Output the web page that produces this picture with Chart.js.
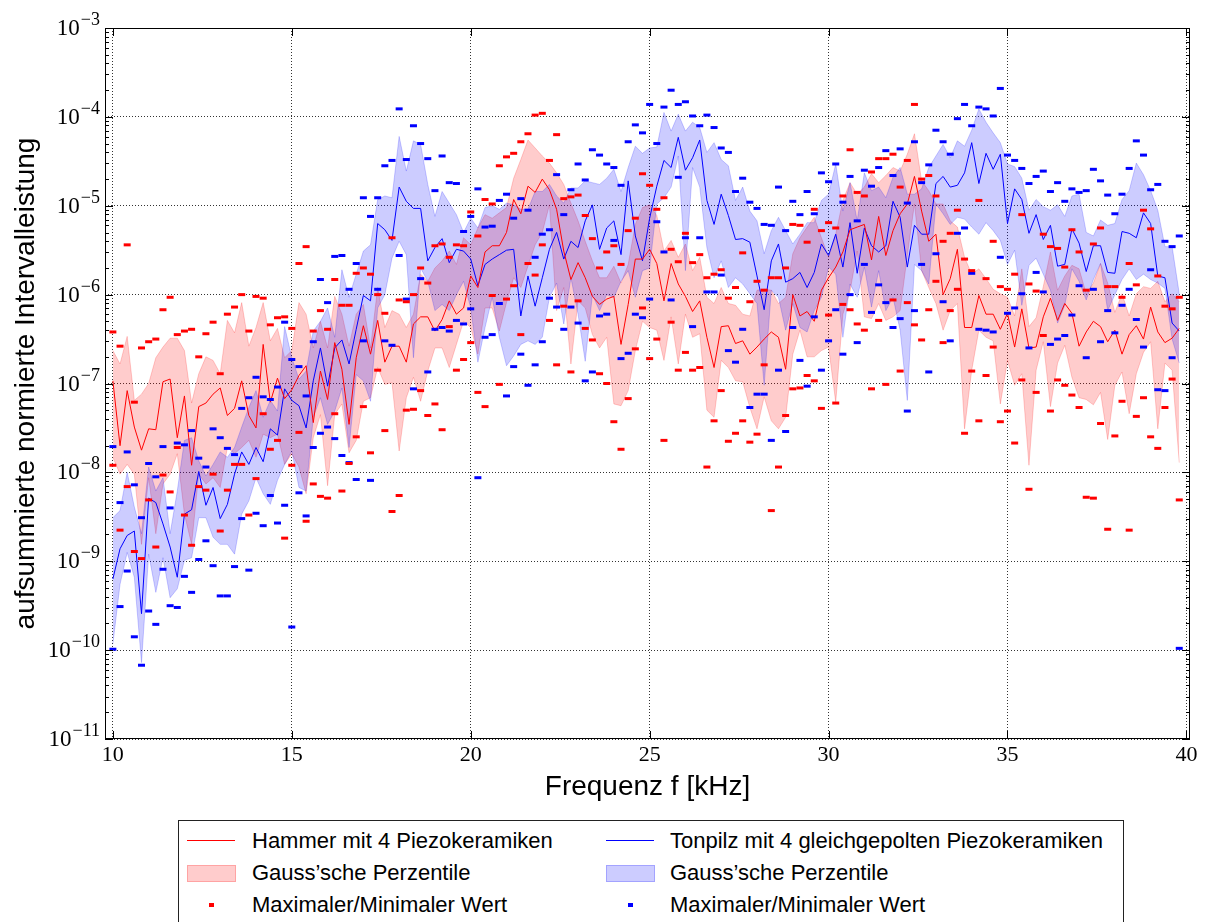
<!DOCTYPE html>
<html>
<head>
<meta charset="utf-8">
<script src="https://cdn.jsdelivr.net/npm/chart.js@4.4.1/dist/chart.umd.min.js"></script>
<style>
  body { margin: 0; background: #fff; width: 1207px; height: 922px; overflow: hidden; position: relative;
         font-family: "Liberation Sans", Arial, sans-serif; }
  #c { position: absolute; left: 0; top: 0; }
  #legend { position: absolute; left: 178px; top: 820px; width: 946px; height: 130px;
            border: 1px solid #222; box-sizing: border-box; background: #fff; }
  .lg { position: absolute; font-size: 22px; line-height: 26px; white-space: nowrap; color: #000; }
  .hline { position: absolute; width: 48px; height: 0; border-top: 1.5px solid; }
  .patch { position: absolute; width: 47px; height: 15px; }
  .dot { position: absolute; width: 5px; height: 4px; }
</style>
</head>
<body>
<canvas id="c" width="1207" height="810"></canvas>
<div id="legend"></div>

<script>
// frequency grid of the measurement, kHz (0.2 kHz steps)
var freqs = Array.from({length: 150}, function(_, i) { return Math.round((10 + 0.2 * i) * 10) / 10; });

// all power values below as log10 exponents
// Hammer mit 4 Piezokeramiken (red)
var hammerLineExp = [
  -6.97,-7.70,-7.08,-7.49,-7.75,-7.51,-7.52,-6.98,-6.95,-7.61,-7.14,-7.92,-7.26,-7.22,-7.12,-7.05,-7.36,-7.28,-6.97,-7.36,-7.50,-6.56,-7.21,-6.94,-7.17,-7.07,
  -6.91,-6.80,-7.44,-6.86,-7.18,-6.54,-6.84,-7.46,-6.71,-6.35,-6.67,-6.29,-6.76,-6.58,-6.58,-6.76,-6.33,-6.25,-6.25,-6.41,-6.28,-6.07,-6.22,-6.15,-5.79,
  -5.92,-5.52,-5.45,-5.45,-5.30,-4.93,-5.09,-4.78,-4.85,-4.70,-4.82,-5.04,-5.51,-5.83,-5.64,-5.81,-6.02,-6.11,-6.05,-6.02,-6.56,-6.11,-5.60,-5.60,-5.49,
  -5.65,-6.07,-5.65,-5.88,-6.02,-6.19,-6.07,-6.48,-6.82,-6.36,-6.35,-6.55,-6.52,-6.67,-6.59,-6.50,-6.42,-6.48,-6.84,-6.00,-6.24,-6.19,-6.30,-5.95,-5.81,
  -5.69,-5.52,-5.27,-5.24,-5.21,-5.61,-5.12,-5.56,-5.28,-5.09,-4.98,-4.67,-5.06,-5.40,-5.32,-6.00,-5.82,-5.49,-6.37,-6.37,-6.01,-6.22,-6.22,-6.39,-6.21,
  -6.59,-6.16,-6.60,-6.59,-6.25,-6.04,-6.29,-6.10,-6.21,-6.58,-6.42,-6.30,-6.36,-6.53,-6.40,-6.67,-6.45,-6.35,-6.50,-6.14,-6.42,-6.54,-6.49,-6.38];
var hammerUpperExp = [
  -6.63,-6.78,-6.47,-7.19,-7.12,-7.00,-6.71,-6.59,-6.49,-6.49,-6.63,-7.22,-6.89,-6.70,-6.74,-6.89,-6.29,-6.43,-6.09,-6.58,-6.37,-6.09,-6.52,-6.38,-6.71,-6.63,
  -6.09,-6.22,-6.60,-6.30,-6.60,-6.02,-6.22,-6.58,-6.22,-6.11,-6.60,-5.92,-6.37,-6.18,-6.22,-6.37,-6.22,-5.77,-5.85,-5.70,-5.62,-5.51,-5.66,-5.36,-5.44,
  -5.25,-5.10,-5.14,-5.08,-5.02,-4.69,-4.48,-4.26,-4.35,-4.44,-4.52,-4.63,-4.76,-4.97,-5.17,-5.40,-5.62,-5.81,-5.81,-5.68,-5.87,-5.66,-5.21,-5.02,-4.99,
  -5.11,-5.51,-5.39,-5.58,-5.43,-5.73,-5.58,-6.03,-6.10,-5.92,-6.10,-6.12,-6.22,-6.24,-5.95,-5.94,-5.95,-6.10,-6.03,-5.54,-5.36,-5.24,-5.13,-5.36,-5.58,
  -5.32,-4.94,-4.74,-4.87,-4.79,-4.64,-4.74,-4.66,-4.57,-4.61,-4.42,-4.19,-4.72,-4.83,-4.98,-4.98,-5.17,-5.24,-5.58,-5.77,-5.71,-5.82,-5.94,-5.99,-6.03,
  -6.24,-5.71,-6.36,-6.26,-5.91,-5.52,-5.95,-5.79,-5.67,-5.71,-5.99,-5.87,-5.65,-5.87,-6.20,-5.99,-6.24,-5.99,-5.91,-5.93,-5.85,-6.08,-5.99,-6.08];
var hammerLowerExp = [
  -7.83,-8.02,-7.91,-8.02,-8.81,-8.06,-8.69,-8.13,-8.02,-7.79,-8.47,-8.81,-8.02,-8.13,-8.06,-8.17,-7.72,-7.79,-7.72,-7.64,-7.83,-7.57,-7.61,-7.57,-7.91,-7.79,
  -7.94,-8.24,-7.61,-7.35,-8.15,-7.35,-7.23,-7.78,-7.64,-7.20,-7.16,-6.82,-7.01,-6.99,-7.76,-7.16,-6.93,-7.20,-6.86,-6.60,-6.60,-6.82,-6.56,-6.30,-6.37,
  -6.67,-6.15,-6.15,-6.41,-6.09,-5.81,-5.92,-5.68,-5.44,-5.30,-4.99,-6.18,-5.92,-6.78,-6.07,-6.15,-6.45,-6.60,-6.48,-7.23,-7.25,-7.08,-6.63,-6.30,-6.37,
  -6.40,-6.74,-6.25,-6.78,-6.22,-6.48,-6.44,-7.30,-7.38,-6.74,-6.82,-6.97,-6.98,-7.27,-7.51,-7.15,-7.42,-7.51,-7.38,-6.67,-6.40,-6.70,-6.70,-6.63,-6.59,
  -7.21,-6.22,-5.96,-5.51,-6.25,-6.27,-6.10,-6.29,-6.25,-6.18,-5.56,-4.98,-5.73,-5.92,-6.10,-6.40,-6.18,-6.10,-7.51,-6.85,-6.40,-6.48,-6.52,-7.23,-6.74,
  -7.02,-6.89,-7.92,-6.85,-6.53,-7.26,-6.77,-6.57,-6.93,-7.16,-7.18,-7.24,-7.10,-7.63,-7.02,-6.87,-7.34,-6.89,-6.65,-6.53,-7.51,-6.77,-6.85,-7.89];
var hammerMaxExp = [
  -6.42,-6.58,-5.44,-7.21,-6.60,-6.53,-6.50,-6.17,-6.03,-6.45,-6.41,-6.39,-6.70,-6.44,-6.31,-6.89,-6.22,-6.14,-6.00,-6.41,-6.02,-6.04,-6.34,-6.26,-6.25,-6.38,
  -5.65,-5.46,-6.41,-6.18,-6.39,-5.83,-6.12,-6.12,-5.76,-5.70,-5.77,-6.00,-6.21,-5.36,-6.06,-6.08,-6.00,-5.70,-5.87,-5.45,-5.43,-5.58,-5.44,-5.45,-5.07,
  -5.34,-4.93,-4.98,-4.55,-4.45,-4.41,-4.28,-4.19,-3.98,-3.96,-4.49,-4.20,-4.92,-4.90,-4.88,-5.11,-5.37,-5.70,-5.52,-5.45,-5.66,-5.28,-5.14,-4.64,-4.77,
  -5.04,-4.91,-5.49,-5.63,-5.31,-5.64,-5.55,-5.81,-5.77,-5.72,-6.04,-5.92,-5.53,-6.08,-5.85,-5.95,-5.81,-5.81,-5.70,-5.21,-5.22,-5.41,-5.04,-5.28,-5.19,
  -5.25,-4.89,-4.37,-4.85,-4.89,-4.62,-4.47,-4.47,-4.42,-4.79,-4.49,-3.86,-4.70,-4.66,-4.89,-5.40,-5.31,-5.05,-5.60,-5.73,-4.94,-5.82,-5.40,-5.91,-5.94,
  -5.77,-5.10,-5.88,-5.96,-5.32,-5.46,-5.48,-5.69,-5.27,-5.52,-5.95,-5.43,-5.25,-5.91,-5.91,-6.03,-5.65,-5.89,-5.05,-5.26,-5.79,-6.13,-6.16,-6.03];
var hammerMinExp = [
  -7.92,-8.65,-8.16,-8.89,-8.97,-8.31,-8.84,-8.03,-8.22,-7.72,-8.48,-8.82,-8.16,-8.20,-8.02,-8.66,-8.20,-7.91,-7.91,-8.48,-8.07,-7.34,-7.74,-7.64,-8.74,-7.92,
  -7.55,-8.55,-8.13,-8.27,-8.29,-7.34,-8.21,-7.90,-7.60,-7.26,-7.78,-6.85,-7.53,-8.44,-8.26,-7.30,-7.29,-7.08,-7.36,-7.23,-7.52,-6.36,-6.85,-6.73,-6.54,
  -7.10,-7.26,-6.01,-7.01,-6.05,-5.90,-6.45,-5.65,-5.78,-5.44,-6.29,-6.79,-6.13,-6.87,-6.07,-6.38,-6.51,-6.89,-7.00,-7.43,-7.74,-7.17,-6.61,-6.15,-6.72,
  -6.50,-7.64,-6.31,-6.85,-6.65,-6.85,-6.82,-7.94,-7.42,-7.08,-7.65,-7.56,-7.42,-7.66,-7.57,-6.79,-8.43,-7.94,-7.36,-7.06,-7.05,-6.91,-6.97,-7.28,-6.23,
  -7.22,-6.11,-6.17,-6.33,-6.40,-7.06,-6.29,-7.01,-6.06,-6.86,-6.09,-6.34,-6.51,-6.17,-5.85,-6.54,-6.18,-5.94,-7.56,-6.86,-7.42,-6.91,-6.59,-7.43,-7.31,
  -7.67,-6.96,-8.19,-7.10,-6.46,-7.31,-6.96,-7.02,-7.13,-7.27,-8.28,-8.29,-7.45,-8.64,-7.59,-7.20,-8.65,-7.37,-7.16,-7.60,-7.73,-7.27,-6.95,-8.31];

// Tonpilz mit 4 gleichgepolten Piezokeramiken (blue)
var tonpilzLineExp = [
  -9.20,-8.86,-8.71,-8.66,-9.59,-8.29,-8.34,-8.58,-8.84,-9.18,-8.47,-8.42,-7.99,-8.37,-8.17,-8.52,-8.36,-8.02,-7.77,-7.91,-7.72,-7.88,-7.51,-7.58,-7.06,-7.19,
  -7.25,-7.50,-6.97,-6.60,-7.03,-6.60,-6.51,-6.78,-6.39,-6.01,-6.07,-5.20,-5.27,-5.39,-4.79,-4.95,-5.03,-5.03,-5.62,-5.47,-5.37,-5.64,-5.49,-5.51,-5.60,
  -5.90,-5.66,-5.60,-5.55,-5.50,-5.49,-6.24,-5.79,-6.13,-5.81,-5.49,-5.30,-5.60,-5.40,-5.47,-5.17,-4.99,-5.49,-5.25,-5.17,-5.55,-4.72,-5.34,-5.62,-5.14,
  -4.78,-4.49,-4.57,-4.23,-4.60,-4.46,-4.26,-4.94,-5.21,-4.87,-5.11,-5.38,-5.37,-5.41,-5.79,-6.17,-5.62,-5.43,-5.86,-5.82,-5.75,-5.92,-5.75,-5.43,-5.56,
  -5.32,-5.69,-5.19,-5.76,-5.25,-5.45,-5.52,-5.45,-4.95,-5.13,-5.69,-5.22,-5.32,-5.32,-4.75,-4.67,-4.79,-4.77,-4.63,-4.29,-4.75,-4.41,-4.59,-4.42,-5.20,
  -4.81,-4.93,-5.31,-5.10,-5.38,-5.22,-5.68,-5.66,-5.26,-5.42,-5.74,-5.45,-5.45,-5.75,-5.76,-5.29,-5.31,-5.36,-5.08,-5.20,-5.79,-5.81,-6.32,-6.41];
var tonpilzUpperExp = [
  -8.51,-8.43,-8.00,-8.39,-8.69,-7.94,-8.21,-8.06,-8.69,-8.21,-7.64,-7.61,-7.87,-8.04,-7.91,-7.77,-7.83,-7.72,-7.49,-7.27,-7.08,-7.38,-7.19,-7.31,-6.36,-6.71,
  -6.95,-6.86,-6.41,-6.30,-6.15,-6.48,-5.72,-6.03,-5.77,-5.51,-5.44,-4.93,-4.89,-4.91,-4.22,-4.61,-4.27,-4.31,-4.76,-5.12,-4.84,-4.97,-5.10,-5.30,-5.14,
  -5.25,-5.02,-5.00,-5.04,-4.97,-4.99,-5.04,-5.04,-4.84,-4.84,-4.76,-4.89,-4.97,-4.80,-4.80,-4.72,-4.74,-4.76,-4.69,-4.59,-4.84,-4.57,-4.33,-4.41,-4.35,
  -4.34,-3.95,-4.16,-3.97,-4.16,-4.06,-4.12,-4.40,-4.29,-4.48,-4.55,-4.94,-4.79,-5.06,-5.17,-5.54,-5.28,-5.13,-5.28,-5.43,-5.32,-5.19,-5.19,-4.94,-4.87,
  -4.53,-5.06,-4.74,-5.17,-4.63,-4.83,-4.79,-4.91,-4.68,-4.57,-4.87,-4.87,-4.81,-4.57,-4.44,-4.31,-4.46,-4.27,-4.33,-4.15,-3.91,-4.06,-4.18,-4.29,-4.53,
  -4.56,-4.69,-5.05,-4.93,-5.01,-5.05,-4.99,-5.12,-4.89,-4.87,-5.30,-5.34,-5.16,-5.22,-5.20,-4.93,-4.83,-4.52,-4.65,-4.83,-5.05,-5.46,-5.46,-5.99];
var tonpilzLowerExp = [
  -9.93,-9.26,-8.90,-9.18,-10.14,-8.92,-9.35,-8.96,-9.41,-9.31,-8.99,-8.96,-8.51,-8.51,-8.73,-8.81,-8.81,-8.92,-8.47,-8.32,-8.06,-8.24,-8.36,-8.09,-7.91,-7.76,
  -8.17,-8.21,-7.38,-7.16,-7.46,-7.31,-7.05,-7.72,-6.90,-6.97,-7.20,-6.15,-6.00,-5.59,-5.40,-5.55,-6.71,-5.70,-5.85,-6.18,-6.11,-6.18,-6.00,-5.85,-6.15,
  -6.76,-6.37,-6.03,-6.48,-6.80,-6.69,-6.56,-6.52,-6.56,-6.48,-6.03,-5.87,-6.33,-5.81,-6.22,-6.75,-6.00,-6.18,-6.00,-6.03,-5.85,-5.73,-6.03,-5.73,-5.70,
  -4.98,-4.91,-4.79,-4.44,-5.73,-4.57,-4.79,-5.47,-5.81,-5.62,-5.92,-5.81,-5.88,-5.99,-6.10,-7.02,-5.95,-6.03,-6.40,-6.10,-6.37,-6.42,-6.18,-6.03,-5.69,
  -5.77,-6.48,-5.88,-6.03,-5.69,-6.14,-5.73,-6.18,-6.03,-6.40,-7.19,-5.66,-5.73,-5.88,-4.98,-5.09,-5.21,-5.13,-5.15,-5.24,-5.32,-5.19,-5.28,-5.39,-5.66,
  -5.50,-6.12,-5.67,-5.59,-5.77,-5.95,-6.32,-6.12,-5.71,-5.85,-6.06,-5.83,-5.65,-6.18,-6.00,-5.83,-5.71,-5.83,-5.77,-5.83,-5.87,-5.93,-6.50,-6.77];
var tonpilzMaxExp = [
  -7.71,-8.34,-7.77,-8.14,-8.51,-7.90,-8.05,-7.71,-8.40,-7.67,-7.69,-7.53,-7.84,-7.94,-7.51,-7.61,-7.73,-7.80,-7.28,-7.16,-6.93,-7.15,-7.18,-7.04,-6.31,-6.73,
  -6.81,-7.14,-6.53,-5.83,-6.09,-5.57,-5.56,-5.94,-5.65,-4.91,-5.12,-4.91,-4.55,-4.49,-3.91,-4.48,-4.10,-4.30,-4.47,-4.83,-4.44,-4.74,-4.75,-5.29,-5.12,
  -4.81,-5.24,-5.23,-4.94,-4.87,-5.14,-4.92,-5.05,-5.58,-5.32,-5.27,-4.65,-5.10,-4.82,-4.53,-4.71,-4.37,-4.43,-4.53,-4.57,-4.77,-4.28,-4.09,-4.18,-3.86,
  -4.30,-3.89,-3.70,-3.86,-3.83,-3.99,-4.10,-3.98,-4.12,-4.35,-4.40,-4.84,-4.69,-4.96,-5.03,-5.21,-5.22,-4.79,-5.28,-4.95,-5.10,-4.84,-5.09,-4.63,-4.73,
  -4.53,-4.96,-4.67,-5.17,-4.60,-4.78,-4.57,-4.38,-4.66,-4.36,-4.97,-4.28,-4.74,-4.54,-4.15,-4.28,-4.42,-4.02,-3.86,-4.10,-3.89,-3.91,-3.99,-3.68,-4.43,
  -4.49,-4.58,-4.75,-4.67,-4.61,-4.84,-4.74,-4.95,-4.81,-4.85,-4.83,-4.59,-4.72,-4.88,-5.09,-4.87,-4.58,-4.27,-4.43,-4.82,-4.76,-5.40,-5.46,-5.34];
var tonpilzMinExp = [
  -9.99,-9.51,-9.11,-9.85,-10.17,-9.56,-9.71,-9.09,-9.50,-9.52,-9.17,-9.35,-8.98,-8.77,-9.05,-9.39,-9.39,-9.06,-8.52,-9.10,-8.46,-8.60,-8.26,-8.57,-8.37,-9.74,
  -8.23,-8.49,-7.72,-7.56,-7.49,-7.62,-7.81,-7.89,-8.08,-6.52,-8.09,-5.94,-6.52,-6.57,-5.56,-6.05,-7.06,-5.82,-6.87,-6.39,-6.37,-6.41,-6.29,-6.33,-6.16,
  -8.06,-6.48,-6.45,-6.10,-7.14,-6.81,-6.67,-7.02,-6.79,-6.53,-6.04,-6.14,-6.39,-6.14,-6.32,-6.97,-6.87,-6.24,-6.22,-5.39,-6.72,-6.66,-6.22,-6.26,-6.05,
  -5.18,-5.52,-6.06,-4.68,-5.36,-6.36,-5.36,-5.97,-5.97,-5.78,-6.63,-6.76,-6.39,-7.27,-7.12,-7.12,-7.64,-6.85,-7.54,-6.37,-6.74,-7.03,-6.25,-6.85,-6.52,
  -6.17,-6.67,-6.00,-6.54,-5.66,-6.20,-5.89,-6.09,-6.37,-6.27,-7.31,-6.18,-5.66,-6.87,-5.54,-6.08,-6.52,-5.31,-5.25,-5.76,-6.39,-6.40,-6.42,-5.58,-6.21,
  -6.15,-5.99,-6.60,-5.75,-5.97,-6.56,-6.50,-6.46,-6.23,-5.90,-6.71,-5.94,-6.53,-6.18,-6.43,-6.12,-5.94,-6.28,-6.59,-5.72,-7.07,-7.08,-6.71,-9.98];

// axes
var xTicks = [10, 15, 20, 25, 30, 35, 40];
var yDecades = [-11, -10, -9, -8, -7, -6, -5, -4, -3];

var legendRows = [
  ['Hammer mit 4 Piezokeramiken', 'Tonpilz mit 4 gleichgepolten Piezokeramiken'],
  ["Gauss\u2019sche Perzentile", "Gauss\u2019sche Perzentile"],
  ['Maximaler/Minimaler Wert', 'Maximaler/Minimaler Wert']
];

function pts(exps) {
  return freqs.map(function(f, i) { return {x: f, y: Math.pow(10, exps[i])}; });
}

var RED = '#ff0000', BLUE = '#0000ff';
var RED_BAND = 'rgba(255,0,0,0.2)', BLUE_BAND = 'rgba(0,0,255,0.2)';

function band(exps, col, fill, order) {
  return {data: pts(exps), borderColor: col, backgroundColor: col, borderWidth: 1,
          pointRadius: 0, fill: fill, tension: 0, order: order};
}
function line(exps, col) {
  return {data: pts(exps), borderColor: col, borderWidth: 1, pointRadius: 0,
          fill: false, tension: 0, order: 2};
}
function marks(exps, col) {
  return {data: pts(exps), showLine: false, pointStyle: 'line', pointRadius: 3.5,
          pointBorderWidth: 3, pointBorderColor: col, borderColor: col, order: 1};
}

var dotted = [1, 2];

var axisDecor = {
  id: 'axisDecor',
  afterDraw: function(chart) {
    var ctx = chart.ctx, a = chart.chartArea, xs = chart.scales.x, ys = chart.scales.y;
    ctx.save();
    ctx.strokeStyle = '#000';
    ctx.lineWidth = 1;
    ctx.beginPath();
    yDecades.forEach(function(d) {
      for (var m = 1; m < 10; m++) {
        var v = m * Math.pow(10, d);
        if (v > 1.0001e-3) break;
        var py = Math.round(ys.getPixelForValue(v)) + 0.5;
        var len = m === 1 ? 8 : 4;
        ctx.moveTo(a.left, py); ctx.lineTo(a.left + len, py);
        ctx.moveTo(a.right, py); ctx.lineTo(a.right - len, py);
      }
    });
    xTicks.forEach(function(t) {
      var px = Math.round(xs.getPixelForValue(t)) + 0.5;
      ctx.moveTo(px, a.bottom); ctx.lineTo(px, a.bottom - 8);
      ctx.moveTo(px, a.top); ctx.lineTo(px, a.top + 8);
    });
    ctx.stroke();
    ctx.strokeRect(Math.round(a.left) + 0.5, Math.round(a.top) + 0.5,
                   Math.round(a.right) - Math.round(a.left) - 1, Math.round(a.bottom) - Math.round(a.top) - 1);

    // y tick labels as 10^n
    ctx.fillStyle = '#000';
    yDecades.forEach(function(d) {
      var py = ys.getPixelForValue(Math.pow(10, d));
      var sup = '\u2212' + Math.abs(d);
      ctx.font = '18px "Liberation Serif"';
      ctx.textAlign = 'right';
      ctx.textBaseline = 'alphabetic';
      ctx.fillText(sup, 100, py - 3);
      var w = ctx.measureText(sup).width;
      ctx.font = '23px "Liberation Serif"';
      ctx.textBaseline = 'middle';
      ctx.fillText('10', 100 - w - 1, py + 1);
    });
    ctx.restore();
  }
};

new Chart(document.getElementById('c'), {
  type: 'line',
  data: {
    datasets: [
      band(hammerUpperExp, RED_BAND, '+1', 6),
      band(hammerLowerExp, RED_BAND, false, 6),
      band(tonpilzUpperExp, BLUE_BAND, '+1', 5),
      band(tonpilzLowerExp, BLUE_BAND, false, 5),
      line(hammerLineExp, RED),
      line(tonpilzLineExp, BLUE),
      marks(hammerMaxExp, RED),
      marks(hammerMinExp, RED),
      marks(tonpilzMaxExp, BLUE),
      marks(tonpilzMinExp, BLUE)
    ]
  },
  options: {
    responsive: false,
    devicePixelRatio: 1,
    animation: false,
    layout: {padding: {top: 28, right: 17, left: 0, bottom: 0}},
    plugins: {legend: {display: false}, tooltip: {enabled: false}},
    scales: {
      x: {
        type: 'linear', min: 9.78, max: 40.1,
        afterBuildTicks: function(s) { s.ticks = xTicks.map(function(v) { return {value: v}; }); },
        afterFit: function(s) { s.height = 71; },
        ticks: {font: {family: 'Liberation Serif', size: 22}, color: '#000', padding: 3,
                maxRotation: 0, autoSkip: false, callback: function(v) { return String(v); }},
        grid: {color: 'rgba(0,0,0,0.8)', lineWidth: 1, drawTicks: false},
        border: {display: false, dash: dotted},
        title: {display: true, text: 'Frequenz f [kHz]', color: '#000',
                font: {family: 'Liberation Sans', size: 28}, padding: {top: 0, bottom: 6}}
      },
      y: {
        type: 'logarithmic', min: 1e-11, max: 1e-3,
        afterBuildTicks: function(s) { s.ticks = yDecades.map(function(d) { return {value: Math.pow(10, d)}; }); },
        afterFit: function(s) { s.width = 105; },
        ticks: {display: false},
        grid: {color: 'rgba(0,0,0,0.8)', lineWidth: 1, drawTicks: false},
        border: {display: false, dash: dotted},
        title: {display: true, text: 'aufsummierte normierte Intervalleistung', color: '#000',
                font: {family: 'Liberation Sans', size: 28}, padding: {top: 9, bottom: 0}}
      }
    }
  },
  plugins: [axisDecor]
});

// legend below the plot
var lg = document.getElementById('legend');
var rowY = [20, 52, 84];            // row centres relative to the legend box
var cols = [{h: 8, t: 73, c: RED, b: RED_BAND}, {h: 427, t: 491, c: BLUE, b: BLUE_BAND}];
cols.forEach(function(col, ci) {
  legendRows.forEach(function(row, ri) {
    var cy = rowY[ri];
    var el;
    if (ri === 0) {
      el = document.createElement('div'); el.className = 'hline';
      el.style.left = col.h + 'px'; el.style.top = (cy - 1) + 'px'; el.style.borderTopColor = col.c;
    } else if (ri === 1) {
      el = document.createElement('div'); el.className = 'patch';
      el.style.left = col.h + 'px'; el.style.top = (cy - 8) + 'px';
      el.style.background = col.b; el.style.border = '1px solid ' + col.b;
    } else {
      el = document.createElement('div'); el.className = 'dot';
      el.style.left = (col.h + 22) + 'px'; el.style.top = (cy - 2) + 'px'; el.style.background = col.c;
    }
    lg.appendChild(el);
    var t = document.createElement('div');
    t.className = 'lg';
    t.style.left = col.t + 'px';
    t.style.top = (cy - 13) + 'px';
    t.textContent = row[ci];
    lg.appendChild(t);
  });
});
</script>
</body>
</html>
